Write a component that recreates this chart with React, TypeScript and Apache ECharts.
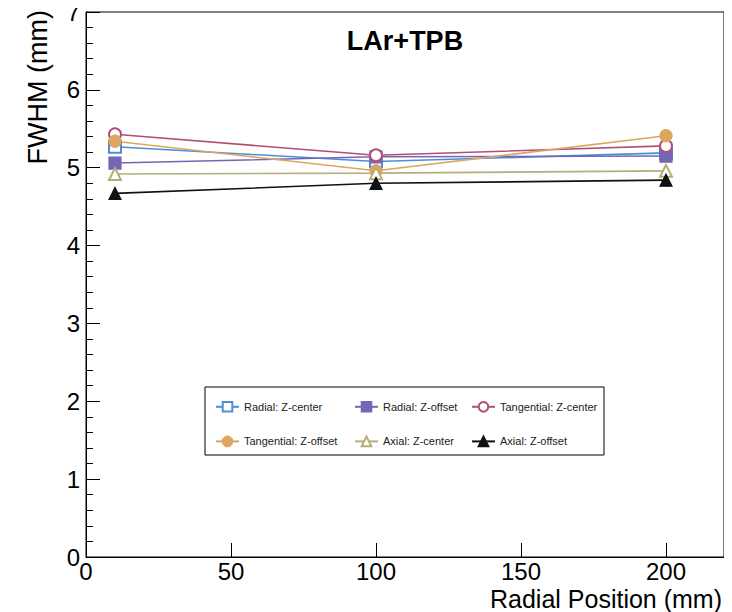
import React, { useEffect, useRef } from "react";
import * as echarts from "echarts";

const radialPositions = [10, 100, 200];
const radialZCenter = [5.27, 5.08, 5.19];
const radialZOffset = [5.06, 5.14, 5.15];
const tangentialZCenter = [5.43, 5.16, 5.28];
const tangentialZOffset = [5.34, 4.96, 5.41];
const axialZCenter = [4.92, 4.93, 4.96];
const axialZOffset = [4.67, 4.8, 4.84];

const seriesNames = [
  "Radial: Z-center",
  "Radial: Z-offset",
  "Tangential: Z-center",
  "Tangential: Z-offset",
  "Axial: Z-center",
  "Axial: Z-offset",
];
const seriesValues = [radialZCenter, radialZOffset, tangentialZCenter, tangentialZOffset, axialZCenter, axialZOffset];
const seriesColors = ["#4a8fd6", "#7566b5", "#b0507a", "#dca560", "#b5ad7a", "#111111"];
const seriesSymbols = ["emptyRect", "rect", "emptyCircle", "circle", "emptyTriangle", "triangle"];

const FONT = "Liberation Sans, Arial, Helvetica, sans-serif";

export default function App() {
  const ref = useRef<HTMLDivElement>(null);
  useEffect(() => {
    if (!ref.current) return;
    const chart = echarts.init(ref.current, undefined, { renderer: "svg" });
    const series = seriesNames.map((name, i) => ({
      name,
      type: "line",
      data: radialPositions.map((x, j) => [x, seriesValues[i][j]]),
      symbol: seriesSymbols[i],
      symbolSize: 12,
      showAllSymbol: true,
      lineStyle: { color: seriesColors[i], width: 1.6 },
      itemStyle: { color: seriesColors[i], borderColor: seriesColors[i], borderWidth: 1.2 },
      z: 2,
    }));
    const legendBase = {
      orient: "vertical",
      top: 396,
      itemWidth: 23,
      itemHeight: 12,
      itemGap: 23,
      textStyle: { fontFamily: FONT, fontSize: 11, color: "#222" },
      selectedMode: false,
    };
    chart.setOption({
      animation: false,
      backgroundColor: "#fff",
      grid: { left: 86, right: 8, top: 12, bottom: 55, show: true, borderColor: "#000", borderWidth: 1 },
      xAxis: {
        type: "value",
        min: 0,
        max: 220,
        interval: 50,
        axisLine: { show: true, lineStyle: { color: "#000", width: 1 } },
        axisTick: { show: true, inside: true, length: 14, lineStyle: { color: "#000" } },
        axisLabel: { fontFamily: FONT, fontSize: 24, lineHeight: 24, color: "#000", margin: 2, showMaxLabel: false },
        splitLine: { show: false },
      },
      yAxis: {
        type: "value",
        min: 0,
        max: 7,
        interval: 1,
        axisLine: { show: true, lineStyle: { color: "#000", width: 1 } },
        axisTick: { show: true, inside: true, length: 14, lineStyle: { color: "#000" } },
        minorTick: { show: true, splitNumber: 5, length: 7, lineStyle: { color: "#000" } },
        axisLabel: { fontFamily: FONT, fontSize: 24, color: "#000", margin: 6 },
        splitLine: { show: false },
      },
      legend: [
        { ...legendBase, left: 210, data: [seriesNames[0], seriesNames[3]] },
        { ...legendBase, left: 349, data: [seriesNames[1], seriesNames[4]] },
        { ...legendBase, left: 466, data: [seriesNames[2], seriesNames[5]] },
      ],
      graphic: [
        {
          type: "rect",
          shape: { x: 205, y: 387, width: 399, height: 68 },
          style: { fill: "none", stroke: "#000", lineWidth: 1 },
          z: 10,
        },
        {
          type: "text",
          x: 405,
          y: 41,
          style: { text: "LAr+TPB", fontFamily: FONT, fontSize: 27, fontWeight: "bold", fill: "#000", textAlign: "center", textVerticalAlign: "middle" },
        },
        {
          type: "text",
          x: 38,
          y: 10,
          rotation: Math.PI / 2,
          style: { text: "FWHM (mm)", fontFamily: FONT, fontSize: 27, fill: "#000", textAlign: "right", textVerticalAlign: "middle" },
        },
        {
          type: "text",
          x: 722,
          y: 599,
          style: { text: "Radial Position (mm)", fontFamily: FONT, fontSize: 25, lineHeight: 25, fill: "#000", textAlign: "right", textVerticalAlign: "middle" },
        },
      ],
      series,
    });
    return () => chart.dispose();
  }, []);
  return <div ref={ref} style={{ width: 732, height: 612, marginLeft: -8, marginTop: -8 }} />;
}
